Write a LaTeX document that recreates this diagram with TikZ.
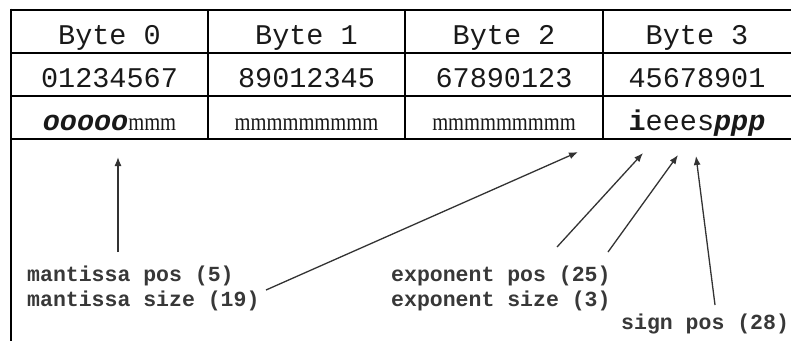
\documentclass[tikz,border=0pt]{standalone}
\usepackage{fontspec}
\newfontfamily\monofam{Liberation Mono}
\newfontfamily\seriffam[FakeStretch=0.82]{Liberation Serif}
\usetikzlibrary{arrows.meta}
\begin{document}
\begin{tikzpicture}[x=1pt,y=-1pt,
  gridline/.style={line width=2.6pt},
  cell/.style={anchor=base, inner sep=0pt, font=\monofam\fontsize{28.5}{29}\selectfont, text=black!90},
  lbl/.style={anchor=base west, inner sep=0pt, font=\monofam\bfseries\fontsize{21.5}{25}\selectfont, text=black!78},
  ptr/.style={-{Latex[length=9pt,width=7pt]}, line width=1.3pt, draw=black!80}]
\useasboundingbox (0,0) rectangle (791,341);
\fill[white] (0,0) rectangle (791,341);
% table
\draw[gridline] (11,10) -- (791,10);
\draw[gridline] (11,53) -- (791,53);
\draw[gridline] (11,96) -- (791,96);
\draw[gridline] (11,139) -- (791,139);
\draw[gridline] (11,8.7) -- (11,341);
\draw[gridline] (208,10) -- (208,139);
\draw[gridline] (405,10) -- (405,139);
\draw[gridline] (603,10) -- (603,139);
% row 1
\node[cell] (b0) at (109.5,44) {Byte 0};
\node[cell] (b1) at (306.5,44) {Byte 1};
\node[cell] (b2) at (504,44) {Byte 2};
\node[cell] (b3) at (697,44) {Byte 3};
% row 2
\node[cell] (d0) at (109.5,87) {01234567};
\node[cell] (d1) at (306.5,87) {89012345};
\node[cell] (d2) at (504,87) {67890123};
\node[cell] (d3) at (697,87) {45678901};
% row 3
\node[cell] (f0) at (109.5,130) {{\bfseries\itshape ooooo}{\seriffam\fontsize{25}{25}\selectfont mmm}};
\node[cell] (f1) at (306.5,130) {\seriffam\fontsize{25}{25}\selectfont mmmmmmmmm};
\node[cell] (f2) at (504,130) {\seriffam\fontsize{25}{25}\selectfont mmmmmmmmm};
\node[cell] (f3) at (697,130) {{\bfseries i}eees{\bfseries\itshape ppp}};
% labels
\node[lbl] (mpos) at (27,281) {mantissa pos (5)};
\node[lbl] (msize) at (27,306) {mantissa size (19)};
\node[lbl] (epos) at (391,281) {exponent pos (25)};
\node[lbl] (esize) at (391,306) {exponent size (3)};
\node[lbl] (spos) at (621,329) {sign pos (28)};
% arrow ends
\coordinate (t1) at (118,252); \coordinate (h1) at (118,157);
\coordinate (t2) at (266,290); \coordinate (h2) at (578,152);
\coordinate (t3) at (557,247); \coordinate (h3) at (643,153);
\coordinate (t4) at (608,252); \coordinate (h4) at (678,155);
\coordinate (t5) at (715,305); \coordinate (h5) at (696,156);
\draw[ptr] (t1) -- (h1);
\draw[ptr] (t2) -- (h2);
\draw[ptr] (t3) -- (h3);
\draw[ptr] (t4) -- (h4);
\draw[ptr] (t5) -- (h5);
\end{tikzpicture}
\end{document}
